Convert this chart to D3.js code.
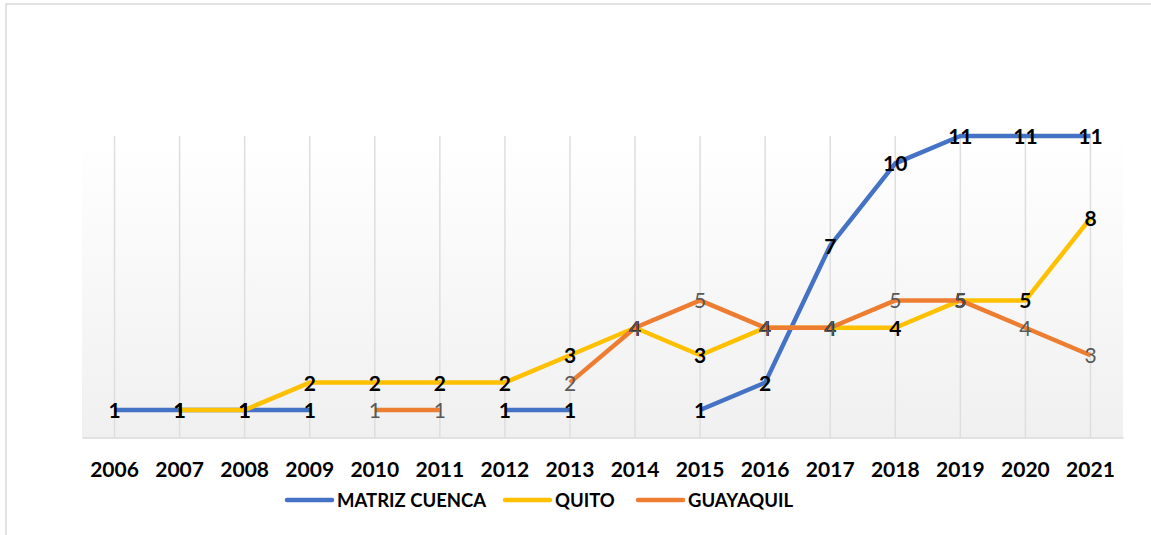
<!DOCTYPE html>
<html lang="es">
<head>
  <meta charset="UTF-8">
  <title>Chart</title>
  <style>
    body { margin: 0; background: #fff; }
    text { font-family: Lato, 'Open Sans', sans-serif; }
    .tick text { font-size: 21px; font-weight: bold; fill: #000; }
    .lbl { font-size: 21px; text-anchor: middle; }
    .legend text { font-size: 18.5px; font-weight: bold; fill: #000; }
  </style>
</head>
<body>
  <svg width="1151" height="535"></svg>
  <script src="https://cdn.jsdelivr.net/npm/d3@7"></script>
  <script>
    var years = ['2006','2007','2008','2009','2010','2011','2012','2013','2014','2015','2016','2017','2018','2019','2020','2021']
    var seriesNames = ['MATRIZ CUENCA', 'QUITO', 'GUAYAQUIL']
    var matriz = [1, 1, 1, 1, null, null, 1, 1, null, 1, 2, 7, 10, 11, 11, 11]
    var quito = [null, 1, 1, 2, 2, 2, 2, 3, 4, 3, 4, 4, 4, 5, 5, 8]
    var guayaquil = [null, null, null, null, 1, 1, null, 2, 4, 5, 4, 4, 5, 5, 4, 3]
    var colors = ['#4472C4', '#FFC000', '#ED7D31']
    var labelColors = ['#000', '#000', '#595959']
    var labelWeights = ['bold', 'bold', 'normal']

    var svg = d3.select('svg')

    // outer chart border
    svg.append('rect')
      .attr('x', 6).attr('y', 4)
      .attr('width', 1160).attr('height', 560)
      .attr('fill', 'none')
      .attr('stroke', '#d9d9d9')
      .attr('stroke-width', 1.5)

    var plotLeft = 82, plotRight = 1123, plotTop = 136, plotBottom = 437.4

    var x = d3.scaleBand().domain(years).range([plotLeft, plotRight])
    var y = d3.scaleLinear().domain([0, 11]).range([plotBottom, plotTop])
    var cx = function(yr) { return x(yr) + x.bandwidth() / 2 }

    var defs = svg.append('defs')
    var grad = defs.append('linearGradient')
      .attr('id', 'bg').attr('x1', 0).attr('y1', 0).attr('x2', 0).attr('y2', 1)
    grad.append('stop').attr('offset', '0%').attr('stop-color', '#ffffff')
    grad.append('stop').attr('offset', '100%').attr('stop-color', '#f0f0f0')

    svg.append('rect')
      .attr('x', plotLeft).attr('y', plotTop)
      .attr('width', plotRight - plotLeft).attr('height', plotBottom - plotTop)
      .attr('fill', 'url(#bg)')

    // vertical gridlines
    svg.append('g')
      .selectAll('line')
      .data(years)
      .enter()
      .append('line')
      .attr('x1', cx).attr('x2', cx)
      .attr('y1', plotTop).attr('y2', plotBottom)
      .attr('stroke', '#dedede')
      .attr('stroke-width', 1.5)

    var xAxis = svg.append('g')
      .attr('transform', 'translate(0,' + plotBottom + ')')
      .call(d3.axisBottom(x).tickSize(0).tickPadding(25))
    xAxis.select('.domain').attr('stroke', '#d9d9d9').attr('stroke-width', 1.5)

    var allSeries = [matriz, quito, guayaquil]

    var line = d3.line()
      .defined(function(d) { return d.v !== null })
      .x(function(d) { return cx(d.year) })
      .y(function(d) { return y(d.v) })

    var rows = allSeries.map(function(vals) {
      return vals.map(function(v, i) { return { year: years[i], v: v } })
    })

    svg.append('g')
      .selectAll('path')
      .data(rows)
      .enter()
      .append('path')
      .attr('d', line)
      .attr('fill', 'none')
      .attr('stroke', function(d, i) { return colors[i] })
      .attr('stroke-width', 4.5)
      .attr('stroke-linejoin', 'round')

    rows.forEach(function(r, i) {
      svg.append('g')
        .selectAll('text')
        .data(r.filter(function(d) { return d.v !== null }))
        .enter()
        .append('text')
        .attr('class', 'lbl')
        .attr('x', function(d) { return cx(d.year) })
        .attr('y', function(d) { return y(d.v) + 8 })
        .attr('fill', labelColors[i])
        .attr('font-weight', labelWeights[i])
        .text(function(d) { return d.v })
    })

    // legend
    var lx = [287, 505, 638]
    var legend = svg.append('g').attr('class', 'legend')
      .attr('transform', 'translate(0,500)')
    var item = legend.selectAll('g')
      .data(seriesNames)
      .enter()
      .append('g')
      .attr('transform', function(d, i) { return 'translate(' + lx[i] + ',0)' })
    item.append('line')
      .attr('x1', 0).attr('x2', 45)
      .attr('stroke', function(d, i) { return colors[i] })
      .attr('stroke-width', 4.5)
      .attr('stroke-linecap', 'round')
    item.append('text')
      .attr('x', 50).attr('y', 7)
      .text(function(d) { return d })
  </script>
</body>
</html>
